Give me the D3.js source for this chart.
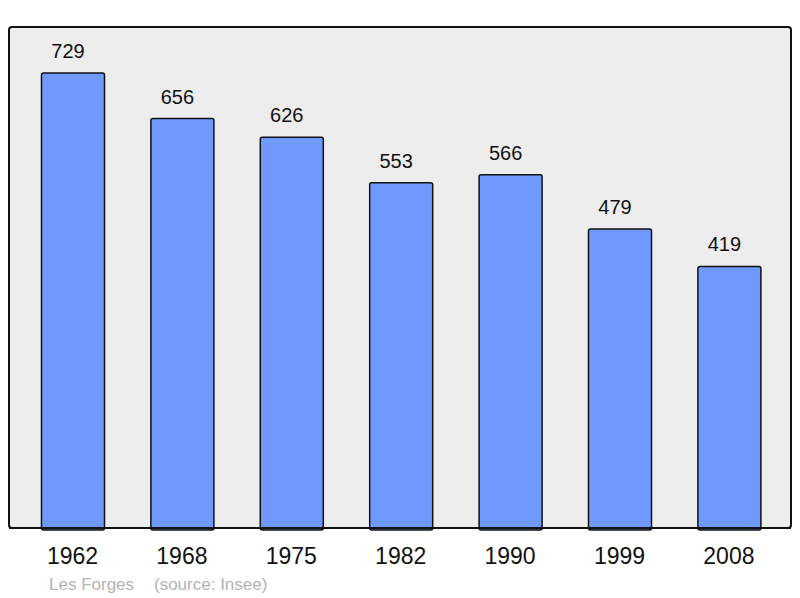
<!DOCTYPE html>
<html>
<head>
<meta charset="utf-8">
<script src="https://cdn.jsdelivr.net/npm/d3@7"></script>
<style>
  body { margin: 0; background: #fff; }
  svg { display: block; font-family: 'Liberation Sans', Arial, sans-serif; }
</style>
</head>
<body>
<div id="chart"></div>
<script>
const years = ['1962', '1968', '1975', '1982', '1990', '1999', '2008'];
const population = [729, 656, 626, 553, 566, 479, 419];
const place = 'Les Forges';
const source = '(source: Insee)';

const w = 800;
const h = 598;
const bar_color = '#7099ff';

const svg = d3.select('#chart')
  .append('svg')
  .attr('width', w)
  .attr('height', h);

// panel
svg.append('rect')
  .attr('x', 9)
  .attr('y', 27)
  .attr('width', 782)
  .attr('height', 501)
  .attr('rx', 3)
  .attr('fill', '#ededed')
  .attr('stroke', '#111')
  .attr('stroke-width', 2);

const xScale = d3.scaleBand()
  .domain(years)
  .range([18.3, 784.1])
  .paddingInner(0.424)
  .paddingOuter(0.212);

const yScale = d3.scaleLinear()
  .domain([0, 729])
  .range([528, 73]);

svg.selectAll('rect.bar')
  .data(population)
  .enter()
  .append('rect')
  .classed('bar', true)
  .attr('x', (d, i) => xScale(years[i]))
  .attr('y', d => yScale(d))
  .attr('width', xScale.bandwidth())
  .attr('height', d => yScale(0) - yScale(d) + 2)
  .attr('rx', 2)
  .attr('fill', bar_color)
  .attr('stroke', '#111')
  .attr('stroke-width', 1.5);

// redraw bottom line of panel over bars
svg.append('line')
  .attr('x1', 9).attr('x2', 791)
  .attr('y1', 528).attr('y2', 528)
  .attr('stroke', '#111')
  .attr('stroke-width', 2);

// value labels sit a little left of the bar centre in the original
svg.selectAll('text.value')
  .data(population)
  .enter()
  .append('text')
  .classed('value', true)
  .attr('x', (d, i) => xScale(years[i]) + xScale.bandwidth() / 2 - 5)
  .attr('y', d => yScale(d) - 15)
  .attr('text-anchor', 'middle')
  .attr('font-size', 20)
  .attr('fill', '#111')
  .text(d => d);

svg.selectAll('text.year')
  .data(years)
  .enter()
  .append('text')
  .classed('year', true)
  .attr('x', d => xScale(d) + xScale.bandwidth() / 2 - 0.5)
  .attr('y', 564)
  .attr('text-anchor', 'middle')
  .attr('font-size', 23)
  .attr('fill', '#111')
  .text(d => d);

svg.append('text')
  .attr('x', 49)
  .attr('y', 590)
  .attr('font-size', 17)
  .attr('fill', '#b3b3b3')
  .text(place);

svg.append('text')
  .attr('x', 154)
  .attr('y', 590)
  .attr('font-size', 17)
  .attr('fill', '#b3b3b3')
  .text(source);
</script>
</body>
</html>
